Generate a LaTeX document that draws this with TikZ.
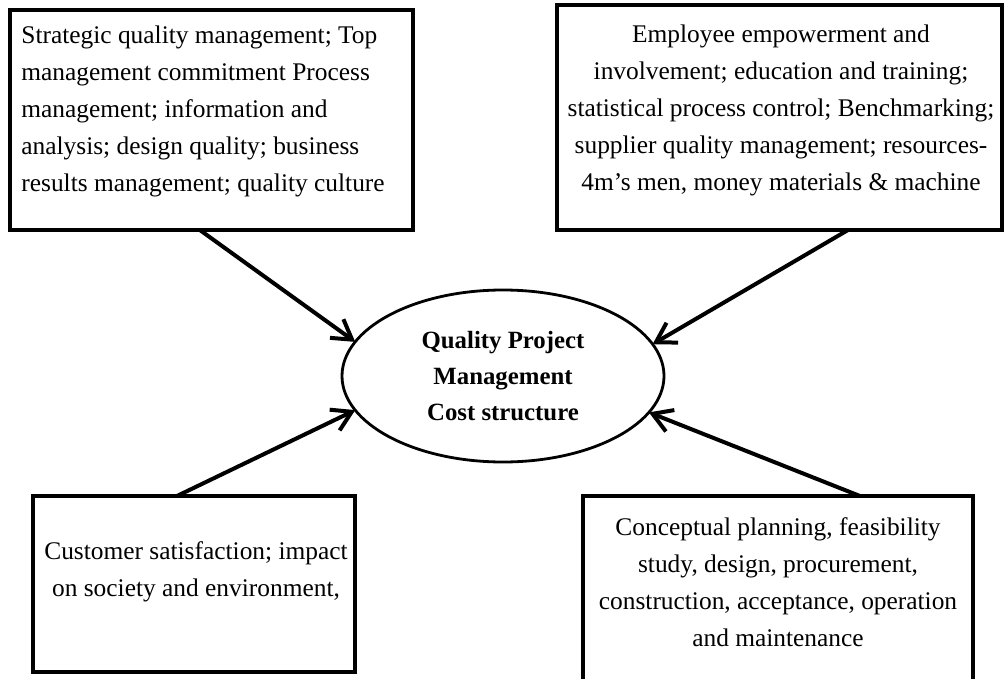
\documentclass[tikz,border=0pt]{standalone}
\usepackage{fontspec}
\setmainfont{Liberation Serif}
\usetikzlibrary{arrows.meta,shapes.geometric,calc}

\begin{document}
\begin{tikzpicture}[x=0.5pt,y=-0.5pt,
  box/.style={draw, rectangle, line width=1.8pt, inner sep=0pt, outer sep=0pt, anchor=north west},
  txt/.style={inner sep=0pt, font=\fontsize{12.7}{18.5}\selectfont},
  hub/.style={draw, ellipse, line width=1.4pt, minimum width=161pt, minimum height=86pt,
    inner sep=0pt, outer sep=0pt, align=center, font=\fontsize{12.4}{18}\selectfont\bfseries},
  feed/.style={line width=2pt, -{Straight Barb[length=9.5pt,width=11.5pt,line width=2pt]}}
]
% page frame (1006 x 679 units)
\clip (0,0) rectangle (1006,679);
\fill[white] (0,0) rectangle (1006,679);

% the four input boxes
\node[box, minimum width=201.5pt, minimum height=110pt] (tl) at (10,10) {};
\node[box, minimum width=222.5pt, minimum height=112.5pt] (tr) at (557,5) {};
\node[box, minimum width=161pt, minimum height=88pt] (bl) at (33,496) {};
\node[box, minimum width=195pt, minimum height=105pt] (br) at (583,496) {};

% box texts
\node[txt, anchor=west, align=left] (tltext) at (21,111)
  {Strategic quality management; Top\\
   management commitment Process\\
   management; information and\\
   analysis; design quality; business\\
   results management; quality culture};
\node[txt, align=center] (trtext) at (781,110)
  {Employee empowerment and\\
   involvement; education and training;\\
   statistical process control; Benchmarking;\\
   supplier quality management; resources-\\
   4m’s men, money materials \& machine};
\node[txt, align=center] (bltext) at (196,572)
  {Customer satisfaction; impact\\
   on society and environment,};
\node[txt, align=center] (brtext) at (778,582)
  {Conceptual planning, feasibility\\
   study, design, procurement,\\
   construction, acceptance, operation\\
   and maintenance};

% central ellipse
\node[hub] (hub) at (503,376) {Quality Project\\ Management\\ Cost structure};

% arrows into the ellipse
\draw[feed] ($(tl.south west)!0.471!(tl.south east)$) -- (hub.167);
\draw[feed] ($(tr.south west)!0.654!(tr.south east)$) -- (hub.12);
\draw[feed] ($(bl.north west)!0.447!(bl.north east)$) -- (hub.193.6);
\draw[feed] ($(br.north west)!0.71!(br.north east)$) -- (hub.346.9);
\end{tikzpicture}
\end{document}
